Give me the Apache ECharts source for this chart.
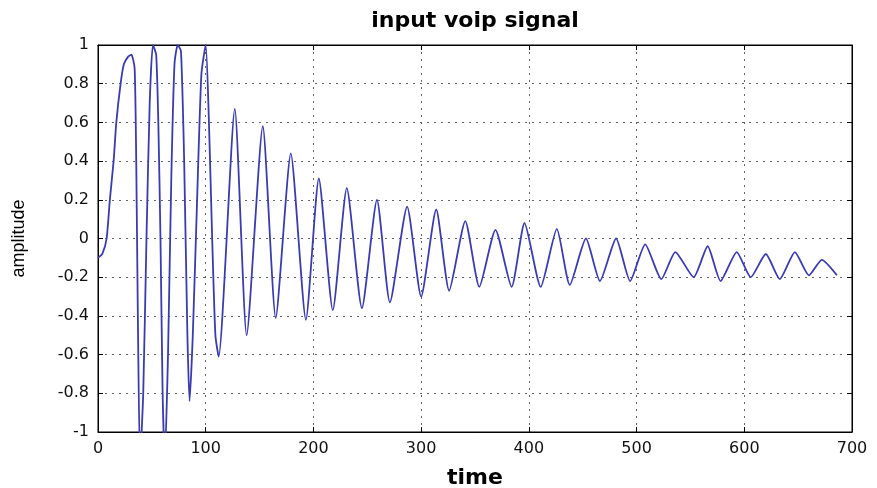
<!DOCTYPE html>
<html>
<head>
<meta charset="utf-8">
<script src="https://cdn.jsdelivr.net/npm/echarts@6/dist/echarts.min.js"></script>
<style>
  html, body { margin: 0; padding: 0; background: #fff; }
  #grafico { width: 877px; height: 488px; }
</style>
</head>
<body>
<div id="grafico"></div>
<script>
// Valores (tiempo, amplitud)
const tiempos = [0, 4, 8, 11, 14.5, 17, 21, 24, 28, 31, 34, 35.5, 37, 39, 42, 45, 48, 51, 54, 56, 58, 60, 62, 65, 68, 71, 74, 77, 80, 83, 85, 88, 92, 96, 100, 103, 106, 109, 112,
  127, 138, 153, 165, 179, 193, 205, 218, 231, 245, 259, 271, 287, 300, 314, 326, 341, 354, 369, 384,
  396, 411, 426, 438, 453, 466, 481, 494, 508, 523, 536, 553, 566, 578, 593, 606, 620, 633, 647, 660, 672, 686];
const amplitudes = [-0.1, -0.08, 0, 0.2, 0.4, 0.6, 0.8, 0.9, 0.94, 0.95, 0.88, 0.4, -0.4, -1.15, -0.8, 0, 0.7, 1.0, 0.95, 0.6, 0, -0.8, -1.15, -0.6, 0.3, 0.9, 1.0, 0.97, 0.4, -0.5, -0.84, -0.5, 0.2, 0.85, 1.0, 0.6, 0, -0.5, -0.61,
  0.67, -0.5, 0.58, -0.41, 0.44, -0.42, 0.31, -0.37, 0.26, -0.36, 0.2, -0.33, 0.165, -0.3, 0.15, -0.27, 0.09, -0.25, 0.045, -0.25,
  0.08, -0.25, 0.05, -0.24, 0.0, -0.22, 0.0, -0.22, -0.03, -0.21, -0.07, -0.2, -0.04, -0.22, -0.07, -0.2, -0.08, -0.21, -0.07, -0.19, -0.11, -0.19];

const ticksY = [-1, -0.8, -0.6, -0.4, -0.2, 0, 0.2, 0.4, 0.6, 0.8, 1];

let grafico = echarts.init(document.getElementById("grafico"));

let rejilla = { show: true, lineStyle: { color: "#666", type: [2, 5], width: 1 } };
let fuente = "DejaVu Sans, sans-serif";
let ejeNegro = { show: true, onZero: false, lineStyle: { color: "#000", width: 1 } };
let marcas = { show: true, inside: true, length: 5, lineStyle: { color: "#000" } };

grafico.setOption({
  animation: false,
  title: {
    text: "input voip signal",
    left: 470, top: 5, textAlign: "center",
    textStyle: { fontFamily: fuente, fontSize: 22, fontWeight: "bold", color: "#000" }
  },
  grid: {
    left: 98, right: 25, top: 45, bottom: 56, containLabel: false, outerBoundsMode: "none",
    show: true, borderColor: "#000", borderWidth: 1
  },
  xAxis: [
    {
      type: "value", min: 0, max: 700, interval: 100,
      name: "time", nameLocation: "middle", nameGap: 35,
      nameTextStyle: { fontFamily: fuente, fontSize: 22, fontWeight: "bold", color: "#000" },
      axisLine: ejeNegro, axisTick: marcas,
      axisLabel: { fontFamily: fuente, fontSize: 16, color: "#111", margin: 9 },
      splitLine: rejilla
    },
    {
      type: "value", position: "top", min: 0, max: 700, interval: 100,
      axisLine: ejeNegro, axisTick: marcas,
      axisLabel: { show: false }, splitLine: { show: false }
    }
  ],
  yAxis: [
    {
      type: "value", min: -1, max: 1, interval: 0.2,
      name: "amplitude", nameLocation: "middle", nameGap: 70, nameRotate: 90,
      nameTextStyle: { fontFamily: "Liberation Sans, Arial, sans-serif", fontSize: 18, color: "#000" },
      axisLine: ejeNegro, axisTick: marcas,
      axisLabel: {
        fontFamily: fuente, fontSize: 16, color: "#111", margin: 9,
        formatter: v => String(ticksY.reduce((a, b) => Math.abs(b - v) < Math.abs(a - v) ? b : a))
      },
      splitLine: rejilla
    },
    {
      type: "value", position: "right", min: -1, max: 1, interval: 0.2,
      axisLine: ejeNegro, axisTick: marcas,
      axisLabel: { show: false }, splitLine: { show: false }
    }
  ],
  series: [{
    name: "amplitude", type: "line",
    data: tiempos.map((t, i) => [t, amplitudes[i]]),
    showSymbol: false, smooth: 0.2, clip: true,
    lineStyle: { color: "#3b3bb0", width: 1.8 }
  }]
});
</script>
</body>
</html>
